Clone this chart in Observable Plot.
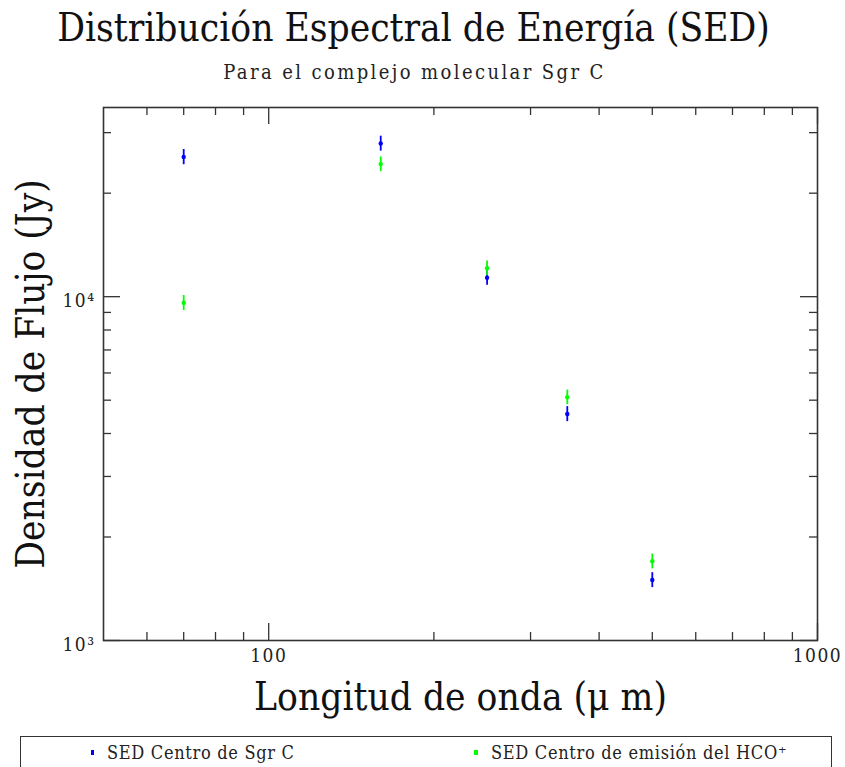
<!DOCTYPE html>
<html>
<head>
<meta charset="utf-8">
<script src="https://cdn.jsdelivr.net/npm/d3@7"></script>
<script src="https://cdn.jsdelivr.net/npm/@observablehq/plot@0.6"></script>
<style>
  html, body { margin: 0; padding: 0; background: #fff; }
  #wrap { position: relative; width: 845px; height: 767px; overflow: hidden; font-family: "DejaVu Serif Condensed", "DejaVu Serif", serif; font-stretch: condensed; color: #111; }
  #title { position: absolute; left: -9px; width: 845px; top: 5px; text-align: center; font-size: 38.5px; line-height: 46px; white-space: nowrap; }
  #subtitle { position: absolute; left: -8px; width: 845px; top: 60px; text-align: center; font-size: 20px; line-height: 24px; letter-spacing: 2.4px; white-space: nowrap; color: #222; }
  #chart { position: absolute; left: 0; top: 90px; }
  #chart svg text { font-stretch: condensed; }
  #chart svg .ticklab text { letter-spacing: 1.5px; }
  #legend { position: absolute; left: 20px; top: 736px; width: 812px; height: 60px; border: 1.5px solid #333; box-sizing: border-box; font-size: 18px; letter-spacing: 0.7px; color: #222; }
  .item { position: absolute; top: 5px; white-space: nowrap; }
  .sw { display: inline-block; vertical-align: middle; margin-right: 13px; position: relative; top: -2px; }
</style>
</head>
<body>
<div id="wrap">
  <div id="title"></div>
  <div id="subtitle"></div>
  <div id="chart"></div>
  <div id="legend"></div>
</div>
<script>
// ---- Data ----
const titleText = "Distribución Espectral de Energía (SED)";
const subtitleText = "Para el complejo molecular Sgr C";
const xLabel = "Longitud de onda (\u03BC m)";
const yLabel = "Densidad de Flujo (Jy)";

const wavelengths = [70, 160, 250, 350, 500];             // µm
const sgrcFlux   = [25500, 27900, 11350, 4560, 1500];     // Jy
const sgrcErr    = [1300, 1400, 560, 230, 75];
const hcoFlux    = [9600, 24300, 12100, 5100, 1700];
const hcoErr     = [480, 1200, 600, 250, 85];

const seriesNames = ["SED Centro de Sgr C", "SED Centro de emisión del HCO\u207A"];
const seriesColors = ["#0000ff", "#00ff00"];

const xMajorTicks = [100, 1000];
const xMinorTicks = [60, 70, 80, 90, 200, 300, 400, 500, 600, 700, 800, 900];
const xTickLabels = ["100", "1000"];
const yMajorTicks = [1000, 10000];
const yMinorTicks = [2000, 3000, 4000, 5000, 6000, 7000, 8000, 9000, 20000, 30000];
const yTickLabels = ["10\u00B3", "10\u2074"];

// ---- Build table ----
const points = [];
wavelengths.forEach((w, i) => {
  points.push({series: seriesNames[0], x: w, y: sgrcFlux[i], lo: sgrcFlux[i] - sgrcErr[i], hi: sgrcFlux[i] + sgrcErr[i]});
  points.push({series: seriesNames[1], x: w, y: hcoFlux[i], lo: hcoFlux[i] - hcoErr[i], hi: hcoFlux[i] + hcoErr[i]});
});

document.getElementById("title").textContent = titleText;
document.getElementById("subtitle").textContent = subtitleText;

const W = 845, H = 635, mL = 103, mR = 28, mT = 17, mB = 85;
const iw = W - mL - mR, ih = H - mT - mB;
const majorLen = 17, minorLen = 8;
const axisColor = "#333";
const fam = "'DejaVu Serif Condensed', 'DejaVu Serif', serif";

const xMaj = xMajorTicks.map((v, i) => ({v, label: xTickLabels[i]}));
const yMaj = yMajorTicks.map((v, i) => ({v, label: yTickLabels[i]}));

const chart = Plot.plot({
  width: W, height: H,
  marginLeft: mL, marginRight: mR, marginTop: mT, marginBottom: mB,
  x: {type: "log", domain: [50, 1000], axis: null},
  y: {type: "log", domain: [1000, 35500], axis: null},
  color: {domain: seriesNames, range: seriesColors},
  style: {fontFamily: fam, background: "white", overflow: "visible", color: "#222"},
  marks: [
    Plot.frame({stroke: axisColor, strokeWidth: 1.6}),
    // inward ticks: left / right
    Plot.tickY(yMinorTicks, {y: d => d, stroke: axisColor, strokeWidth: 1.3, insetRight: iw - minorLen}),
    Plot.tickY(yMinorTicks, {y: d => d, stroke: axisColor, strokeWidth: 1.3, insetLeft: iw - minorLen}),
    Plot.tickY(yMajorTicks, {y: d => d, stroke: axisColor, strokeWidth: 1.3, insetRight: iw - majorLen}),
    Plot.tickY(yMajorTicks, {y: d => d, stroke: axisColor, strokeWidth: 1.3, insetLeft: iw - majorLen}),
    // inward ticks: bottom / top
    Plot.tickX(xMinorTicks, {x: d => d, stroke: axisColor, strokeWidth: 1.3, insetTop: ih - minorLen}),
    Plot.tickX(xMinorTicks, {x: d => d, stroke: axisColor, strokeWidth: 1.3, insetBottom: ih - minorLen}),
    Plot.tickX(xMajorTicks, {x: d => d, stroke: axisColor, strokeWidth: 1.3, insetTop: ih - majorLen}),
    Plot.tickX(xMajorTicks, {x: d => d, stroke: axisColor, strokeWidth: 1.3, insetBottom: ih - majorLen}),
    // tick labels
    Plot.text(xMaj, {x: "v", text: "label", frameAnchor: "bottom", dy: 21, fontSize: 19, fill: "#222", className: "ticklab"}),
    Plot.text(yMaj, {y: "v", text: "label", frameAnchor: "left", dx: -8, dy: 4, textAnchor: "end", fontSize: 19, fill: "#222", className: "ticklab"}),
    // axis titles
    Plot.text([xLabel], {frameAnchor: "bottom", dy: 69, fontSize: 38.5, fill: "#111"}),
    Plot.text([yLabel], {frameAnchor: "left", dx: -72, rotate: -90, textAnchor: "middle", fontSize: 38.5, fill: "#111"}),
    // error bars and points
    Plot.ruleX(points, {x: "x", y1: "lo", y2: "hi", stroke: "series", strokeWidth: 1.8}),
    Plot.dot(points, {x: "x", y: "y", r: 2.2, fill: "series", stroke: "none"})
  ]
});
document.getElementById("chart").appendChild(chart);

// legend
const legend = document.getElementById("legend");
const legendX = [70, 453];
seriesNames.forEach((name, i) => {
  const item = document.createElement("div");
  item.className = "item";
  item.style.left = legendX[i] + "px";
  const sw = document.createElement("span");
  sw.className = "sw";
  sw.style.width = i === 0 ? "3px" : "4px";
  sw.style.height = "5px";
  sw.style.background = seriesColors[i];
  item.appendChild(sw);
  item.appendChild(document.createTextNode(name));
  legend.appendChild(item);
});
</script>
</body>
</html>
